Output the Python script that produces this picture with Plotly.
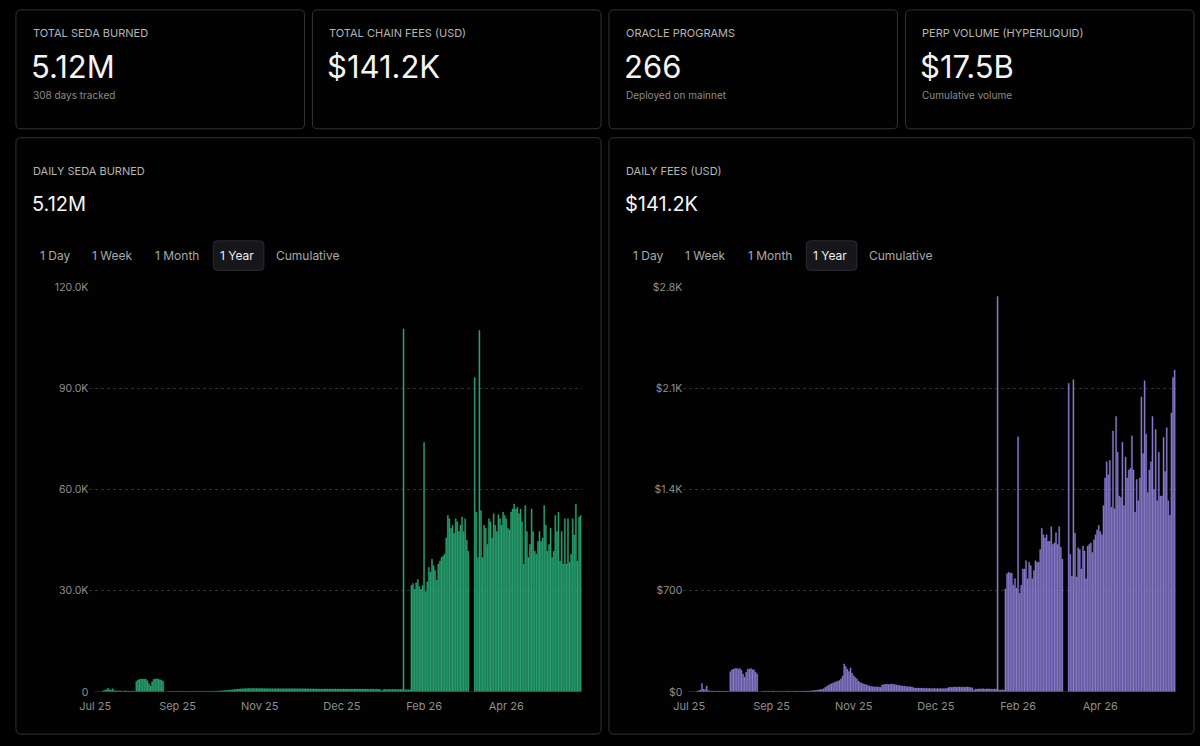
'''
    SEDA network dashboard: KPI cards plus daily burn / daily fee bar charts.
'''

import pandas as pd
import plotly.graph_objects as go

W, H = 1200, 746

# ---- data -----------------------------------------------------------------
start_day = '2025-07-24'

# daily SEDA burned, 308 tracked days
seda_burned = [
    0, 0, 0, 0, 0, 300, 500, 600, 1100, 700,
    500, 900, 400, 300, 250, 300, 250, 200, 250, 300,
    250, 200, 250, 200, 250, 200, 3100, 3500, 3700, 3800,
    3800, 3700, 3800, 3300, 2400, 1700, 3000, 3700, 3800, 3900,
    3700, 3600, 3400, 3100, 0, 0, 120, 150, 130, 140,
    160, 120, 150, 140, 130, 150, 160, 140, 120, 150,
    130, 140, 150, 160, 140, 130, 150, 140, 160, 150,
    140, 170, 160, 150, 180, 170, 200, 220, 250, 280,
    300, 350, 400, 450, 500, 550, 600, 650, 700, 750,
    800, 850, 880, 900, 920, 950, 980, 1000, 1020, 1000,
    980, 1010, 990, 1000, 970, 960, 980, 950, 960, 940,
    950, 930, 940, 920, 930, 950, 940, 920, 930, 910,
    920, 900, 930, 940, 950, 930, 940, 920, 910, 930,
    900, 910, 890, 900, 880, 890, 900, 870, 880, 860,
    870, 850, 860, 840, 850, 860, 840, 830, 850, 840,
    830, 840, 820, 830, 840, 820, 830, 810, 820, 830,
    810, 820, 800, 810, 820, 830, 840, 820, 830, 810,
    820, 800, 810, 790, 800, 810, 790, 780, 790, 770,
    760, 300, 650, 680, 700, 690, 700, 680, 690, 700,
    680, 700, 690, 680, 700, 107600, 650, 620, 640, 600,
    31600, 32100, 30400, 32300, 33300, 31200, 30400, 31500, 73900, 29700,
    32600, 36900, 35500, 39300, 37400, 36000, 33100, 37900, 38800, 39800,
    40300, 40800, 45600, 52300, 51300, 48500, 49400, 47000, 51300, 50400,
    47500, 49400, 51800, 47500, 51300, 45000, 41700, 0, 0, 0,
    93200, 53300, 39800, 107100, 53700, 39800, 49400, 48500, 43700, 51300,
    50400, 45600, 52800, 49400, 47500, 52500, 51300, 49400, 53300, 52300,
    51300, 48500, 48000, 53300, 54200, 55700, 54200, 54700, 52800, 54200,
    50400, 37900, 55200, 47500, 39800, 43700, 54200, 47500, 41700, 40800,
    44600, 47500, 44600, 45600, 55200, 49400, 41700, 43700, 48500, 39800,
    41700, 52300, 47500, 53300, 38800, 47500, 37900, 51300, 37900, 51300,
    38400, 40800, 51300, 46500, 55700, 38800, 51800, 52300,
]

# daily chain fees in USD, same days
fees_usd = [
    0, 0, 0, 0, 0, 5, 8, 12, 58, 18,
    15, 40, 10, 6, 5, 6, 5, 4, 5, 6,
    4, 5, 4, 5, 4, 3, 139, 153, 157, 162,
    162, 157, 162, 150, 123, 101, 135, 157, 157, 162,
    153, 153, 135, 123, 0, 0, 3, 4, 3, 4,
    4, 3, 4, 5, 4, 3, 4, 4, 3, 4,
    3, 4, 4, 5, 4, 3, 4, 4, 5, 4,
    4, 5, 4, 5, 6, 5, 6, 7, 8, 9,
    10, 12, 14, 16, 18, 22, 30, 38, 45, 52,
    56, 62, 66, 70, 75, 78, 90, 110, 193, 175,
    157, 140, 166, 130, 112, 100, 90, 75, 67, 60,
    56, 52, 49, 45, 40, 38, 36, 34, 35, 33,
    34, 32, 48, 50, 52, 54, 50, 53, 54, 52,
    50, 48, 46, 44, 42, 40, 40, 38, 36, 35,
    35, 34, 28, 27, 26, 27, 25, 26, 24, 25,
    24, 23, 24, 22, 23, 24, 22, 23, 22, 23,
    22, 23, 22, 24, 30, 32, 31, 33, 34, 32,
    33, 34, 32, 33, 31, 34, 33, 32, 30, 28,
    11, 18, 20, 19, 21, 20, 22, 19, 20, 21,
    19, 20, 18, 20, 19, 2735, 13, 12, 14, 13,
    711, 817, 828, 822, 821, 738, 783, 716, 1764, 682,
    738, 850, 850, 907, 783, 896, 873, 783, 839, 907,
    896, 896, 985, 1131, 1086, 1064, 1086, 1041, 1041, 1142,
    1019, 1030, 1100, 1019, 1142, 1000, 918, 0, 0, 0,
    2134, 951, 800, 2159, 1097, 794, 996, 985, 850, 1008,
    974, 783, 1008, 1019, 1030, 963, 1052, 1086, 1120, 1153,
    1108, 1086, 1288, 1479, 1591, 1502, 1602, 1277, 1804, 1266,
    1905, 1658, 1355, 1344, 1726, 1288, 1625, 1479, 1535, 1546,
    1771, 1535, 1243, 1468, 1322, 1479, 2040, 1647, 2152, 1782,
    1378, 1535, 1591, 1905, 1400, 1815, 1322, 1658, 1355, 1355,
    1760, 1524, 1827, 1322, 1221, 1928, 2175, 2226,
]

days = pd.date_range(start_day, periods=len(seda_burned), freq='D')

x_tick_dates = ['2025-07-24', '2025-09-14', '2025-11-05', '2025-12-27', '2026-02-17', '2026-04-10']
x_tick_labels = ['Jul 25', 'Sep 25', 'Nov 25', 'Dec 25', 'Feb 26', 'Apr 26']

burn_ticks = [0, 30000, 60000, 90000, 120000]
burn_tick_labels = ['0', '30.0K', '60.0K', '90.0K', '120.0K']
fee_ticks = [0, 700, 1400, 2100, 2800]
fee_tick_labels = ['$0', '$700', '$1.4K', '$2.1K', '$2.8K']

kpi_titles = ['TOTAL SEDA BURNED', 'TOTAL CHAIN FEES (USD)', 'ORACLE PROGRAMS', 'PERP VOLUME (HYPERLIQUID)']
kpi_values = ['5.12M', '$141.2K', '266', '$17.5B']
kpi_notes = ['308 days tracked', '', 'Deployed on mainnet', 'Cumulative volume']

chart_titles = ['DAILY SEDA BURNED', 'DAILY FEES (USD)']
chart_totals = ['5.12M', '$141.2K']
range_buttons = ['1 Day', '1 Week', '1 Month', '1 Year', 'Cumulative']

# ---- helpers ----------------------------------------------------------------
FONT = 'Inter, Noto Sans, sans-serif'


def px(x):
    return x / W


def py(y):
    return 1 - y / H


def rounded_rect(x0, y0, x1, y1, r, fill, line):
    # pixel coords in, paper-coord svg path out
    pts = [
        f'M{px(x0 + r)},{py(y0)}',
        f'L{px(x1 - r)},{py(y0)}',
        f'Q{px(x1)},{py(y0)} {px(x1)},{py(y0 + r)}',
        f'L{px(x1)},{py(y1 - r)}',
        f'Q{px(x1)},{py(y1)} {px(x1 - r)},{py(y1)}',
        f'L{px(x0 + r)},{py(y1)}',
        f'Q{px(x0)},{py(y1)} {px(x0)},{py(y1 - r)}',
        f'L{px(x0)},{py(y0 + r)}',
        f'Q{px(x0)},{py(y0)} {px(x0 + r)},{py(y0)}',
        'Z',
    ]
    return dict(type='path', xref='paper', yref='paper', path=' '.join(pts),
                fillcolor=fill, line=dict(color=line, width=1), layer='below')


def label(x, y, text, size, color, family=FONT):
    return dict(x=px(x), y=py(y), xref='paper', yref='paper', text=text, showarrow=False,
                xanchor='left', yanchor='middle', font=dict(size=size, color=color, family=family))


# ---- figure -------------------------------------------------------------------
fig = go.Figure()

fig.add_trace(go.Bar(
    x=days, y=seda_burned, xaxis='x', yaxis='y',
    marker=dict(color='#1f9466', line=dict(color='#3fd596', width=0.3)),
    name='SEDA burned',
))
fig.add_trace(go.Bar(
    x=days, y=fees_usd, xaxis='x2', yaxis='y2',
    marker=dict(color='#7d6cc6', line=dict(color='#ab9ff0', width=0.3)),
    name='Fees (USD)',
))

shapes = []
annotations = []

kpi_left = [6, 305, 604, 903]
for i, x0 in enumerate(kpi_left):
    shapes.append(rounded_rect(x0, 4, x0 + 291, 125, 5, '#020202', '#333333'))
    annotations.append(label(x0 + 15, 27, kpi_titles[i], 11, '#b4b4b4'))
    annotations.append(label(x0 + 13, 62, kpi_values[i], 31, '#f4f4f4'))
    if kpi_notes[i]:
        annotations.append(label(x0 + 15, 91, kpi_notes[i], 10, '#8a8a8a'))

chart_left = [6, 604]
button_offsets = [22, 75, 138, 204, 260]
for i, x0 in enumerate(chart_left):
    shapes.append(rounded_rect(x0, 134, x0 + 590, 741, 5, '#020202', '#333333'))
    annotations.append(label(x0 + 15, 168, chart_titles[i], 11, '#b4b4b4'))
    annotations.append(label(x0 + 14, 202, chart_totals[i], 20, '#f4f4f4'))
    shapes.append(rounded_rect(x0 + 199, 239, x0 + 250, 269, 4, '#16161b', '#2c2c32'))
    for j, txt in enumerate(range_buttons):
        color = '#f0f0f0' if txt == '1 Year' else '#a8a8a8'
        annotations.append(label(x0 + button_offsets[j], 254, txt, 12, color))

x_range = ['2025-07-20 06:00', '2026-05-28 00:00']
common_x = dict(type='date', range=x_range, tickvals=x_tick_dates, ticktext=x_tick_labels,
                showgrid=False, zeroline=False, showline=False, ticks='', ticklabelstandoff=6,
                tickfont=dict(size=11, color='#8e8e8e', family=FONT), fixedrange=True)
common_y = dict(showgrid=True, gridcolor='#2e2e2e', griddash='dot', gridwidth=1,
                zeroline=False, showline=False, ticks='',
                tickfont=dict(size=10.5, color='#8e8e8e', family=FONT), fixedrange=True)

# no fixed width/height: the figure takes the whole window (100vw x 100vh)
fig.update_layout(
    autosize=True,
    margin=dict(l=0, r=0, t=0, b=0),
    paper_bgcolor='#000000', plot_bgcolor='rgba(0,0,0,0)',
    showlegend=False, bargap=0.28,
    xaxis=dict(domain=[px(80), px(577)], anchor='y', **common_x),
    yaxis=dict(domain=[py(698), py(286)], anchor='x', range=[0, 120000],
               tickvals=burn_ticks, ticktext=burn_tick_labels, **common_y),
    xaxis2=dict(domain=[px(679), px(1176)], anchor='y2', **common_x),
    yaxis2=dict(domain=[py(698), py(286)], anchor='x2', range=[0, 2800],
                tickvals=fee_ticks, ticktext=fee_tick_labels, **common_y),
    shapes=shapes,
    annotations=annotations,
)

page_css = ("document.body.style.margin='0';document.body.style.background='#000';"
            "document.documentElement.style.overflow='hidden';")
fig.write_html('out.html', config={'displayModeBar': False},
               default_width='100vw', default_height='100vh', post_script=page_css)
